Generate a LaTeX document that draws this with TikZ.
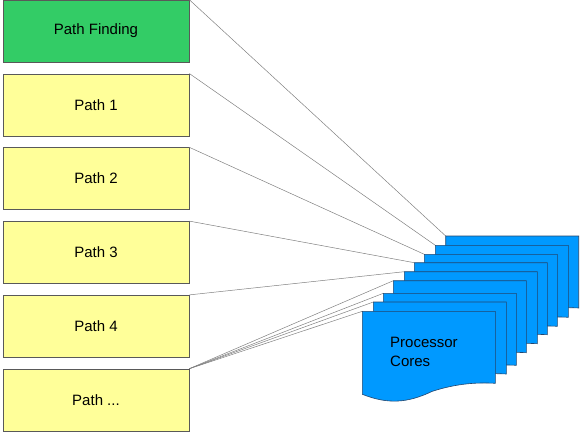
\documentclass[tikz,border=0pt]{standalone}
\usepackage{fontspec}
\setmainfont{Liberation Sans}
\usetikzlibrary{positioning}
\definecolor{pathgreen}{RGB}{51,204,102}
\definecolor{pathyellow}{RGB}{255,255,153}
\definecolor{coreblue}{RGB}{0,153,255}
\definecolor{coreedge}{RGB}{35,70,110}
\tikzset{
  pathbox/.style={draw=black!65, line width=0.6pt, minimum width=186pt, minimum height=62pt,
    inner sep=0pt, font=\fontsize{15}{18}\selectfont},
  link/.style={draw=black!50, line width=0.5pt},
  card/.style={fill=coreblue, draw=coreedge, line width=0.6pt}
}
\begin{document}
\begin{tikzpicture}[x=1pt, y=-1pt]
    \useasboundingbox (0,0) rectangle (583,434);

    % Task boxes
    \node[pathbox, fill=pathgreen] (pf) at (96,31) {Path Finding};
    \node[pathbox, fill=pathyellow, below=11.2pt of pf] (p1) {Path 1};
    \node[pathbox, fill=pathyellow, below=11.2pt of p1] (p2) {Path 2};
    \node[pathbox, fill=pathyellow, below=11.2pt of p2] (p3) {Path 3};
    \node[pathbox, fill=pathyellow, below=11.2pt of p3] (p4) {Path 4};
    \node[pathbox, fill=pathyellow, below=11.2pt of p4] (pd) {Path ...};

    % Corners of the core cards, back to front
    \foreach \x/\y [count=\i] in {445.7/236, 435.3/245.3, 424.3/254.3, 414.3/262.7,
        404.3/271.7, 393.3/280.7, 383.3/293.3, 373.3/302, 362.3/311.3}
        \coordinate (c\i) at (\x,\y);

    % Links
    \draw[link] (pf.north east) -- (c1);
    \draw[link] (p1.north east) -- (c2);
    \draw[link] (p2.north east) -- (c3);
    \draw[link] (p3.north east) -- (c4);
    \draw[link] (p4.north east) -- (c5);
    \foreach \i in {6,...,9}
        \draw[link] (pd.north east) -- (c\i);

    % Core cards
    \foreach \x/\y in {445.7/236, 435.3/245.3, 424.3/254.3, 414.3/262.7,
        404.3/271.7, 393.3/280.7, 383.3/293.3, 373.3/302, 362.3/311.3}
        \draw[card] (\x,\y) -- (\x+133,\y) -- (\x+133,\y+72)
            .. controls (\x+115,\y+71) and (\x+95,\y+72) .. (\x+70,\y+80)
            .. controls (\x+45,\y+92) and (\x+25,\y+93) .. (\x,\y+83) -- cycle;

    \node[anchor=base west, align=left, inner sep=0pt,
        font=\fontsize{15}{19}\selectfont] (cores) at (390,366.7) {Processor\\Cores};
\end{tikzpicture}
\end{document}
